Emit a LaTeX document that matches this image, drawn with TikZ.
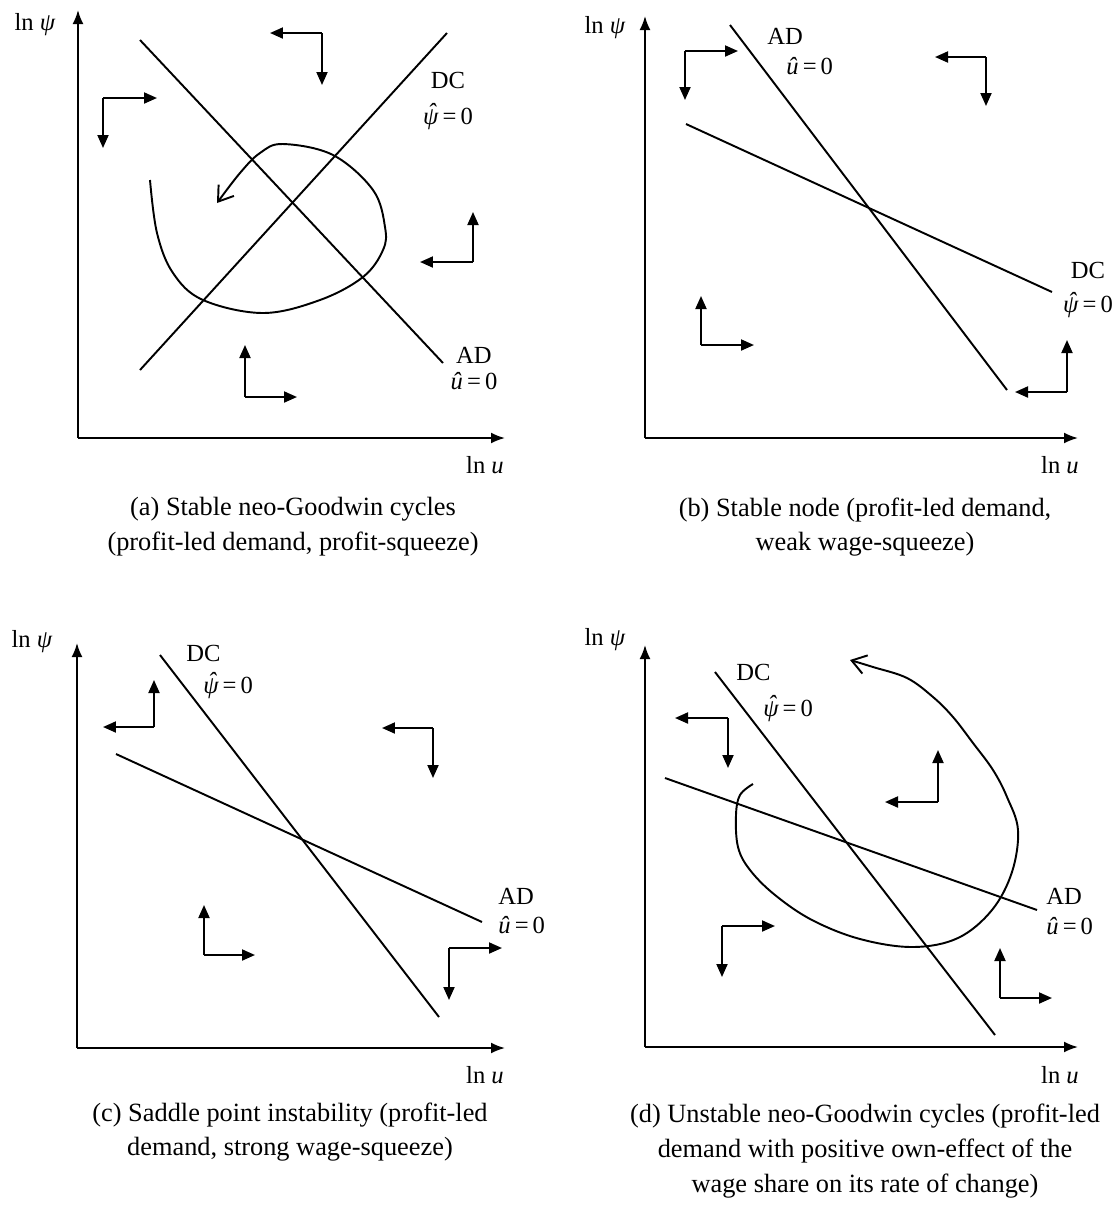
\documentclass[tikz,border=0pt]{standalone}
\usepackage{amsmath}
\usepackage{fontspec}
\setmainfont{Liberation Serif}
\usetikzlibrary{arrows.meta}
\tikzset{
  axis line/.style = {-{Latex[length=2.8mm,width=2.2mm]}, line width=1.1pt},
  locus/.style     = {line width=1.1pt},
  flow/.style      = {-{Triangle[length=2.6mm,width=2.2mm]}, line width=1.1pt},
  orbit/.style     = {-{Straight Barb[length=2.8mm,width=3.8mm]}, line width=1.1pt},
  lbl/.style       = {font=\fontsize{14}{15}\selectfont, inner sep=0pt},
  caption/.style   = {font=\fontsize{15}{19.8}\selectfont, align=center, inner sep=0pt},
}
% corner, horizontal run, vertical run
\newcommand{\flowpair}[3]{%
  \draw[flow] (#1) -- ++(#2,0);
  \draw[flow] (#1) -- ++(0,#3);}
\newcommand{\psieq}{{\itshape\accent"02C6 ψ}\,=\,0}
\newcommand{\ueq}{\textit{û}\,=\,0}

\begin{document}
\begin{tikzpicture}[x=0.02cm,y=-0.02cm]
  \useasboundingbox (0,0) rectangle (1120,1205);

  % (a) stable cycles
  \coordinate (a-o) at (78,438);
  \draw[axis line] (a-o) -- (78,10);
  \draw[axis line] (a-o) -- (505,438);
  \node[lbl] (a-psi) at (35,25) {ln \textit{ψ}};
  \node[lbl] (a-u) at (485,465) {ln \textit{u}};
  \coordinate (a-ad1) at (140,40);  \coordinate (a-ad2) at (443,363);
  \coordinate (a-dc1) at (140,370); \coordinate (a-dc2) at (447,33);
  \draw[locus] (a-ad1) -- (a-ad2);
  \draw[locus] (a-dc1) -- (a-dc2);
  \node[lbl,align=center,anchor=north] (a-dc) at (448,72) {DC\\[5.4pt]\psieq};
  \node[lbl,align=center,anchor=north] (a-ad) at (474,347) {AD\\\ueq};
  \draw[orbit] plot[smooth,tension=0.6] coordinates {(150,180) (157,233) (173,273)
    (203,300) (263,313) (320,300) (363,277) (383,250) (385,227) (373,190)
    (333,155) (283,144) (260,153) (240,173) (217,203)};
  \coordinate (a-f1) at (322,33);  \flowpair{a-f1}{-52}{52}
  \coordinate (a-f2) at (103,98);  \flowpair{a-f2}{54}{50}
  \coordinate (a-f3) at (473,262); \flowpair{a-f3}{-53}{-50}
  \coordinate (a-f4) at (245,397); \flowpair{a-f4}{52}{-52}
  \node[caption] (a-cap) at (293,527) {(a) Stable neo-Goodwin cycles\\(profit-led demand, profit-squeeze)};

  % (b) stable node
  \coordinate (b-o) at (645,438);
  \draw[axis line] (b-o) -- (645,16);
  \draw[axis line] (b-o) -- (1078,438);
  \node[lbl] (b-psi) at (605,28) {ln \textit{ψ}};
  \node[lbl] (b-u) at (1060,465) {ln \textit{u}};
  \coordinate (b-ad1) at (730,25);  \coordinate (b-ad2) at (1007,390);
  \coordinate (b-dc1) at (686,124); \coordinate (b-dc2) at (1052,292);
  \draw[locus] (b-ad1) -- (b-ad2);
  \draw[locus] (b-dc1) -- (b-dc2);
  \node[lbl,align=left,anchor=north west] (b-ad) at (767,28) {AD\\[2pt]\hspace*{0.38cm}\ueq};
  \node[lbl,align=center,anchor=north] (b-dc) at (1088,262) {DC\\[4.3pt]\psieq};
  \coordinate (b-f1) at (685,51);  \flowpair{b-f1}{53}{49}
  \coordinate (b-f2) at (986,57);  \flowpair{b-f2}{-51}{49}
  \coordinate (b-f3) at (701,345); \flowpair{b-f3}{53}{-49}
  \coordinate (b-f4) at (1067,392); \flowpair{b-f4}{-52}{-52}
  \node[caption] (b-cap) at (865,527) {(b) Stable node (profit-led demand,\\weak wage-squeeze)};

  % (c) saddle point
  \coordinate (c-o) at (77,1048);
  \draw[axis line] (c-o) -- (77,643);
  \draw[axis line] (c-o) -- (505,1048);
  \node[lbl] (c-psi) at (32,642) {ln \textit{ψ}};
  \node[lbl] (c-u) at (485,1075) {ln \textit{u}};
  \coordinate (c-dc1) at (160,655); \coordinate (c-dc2) at (439,1017);
  \coordinate (c-ad1) at (116,754); \coordinate (c-ad2) at (482,922);
  \draw[locus] (c-dc1) -- (c-dc2);
  \draw[locus] (c-ad1) -- (c-ad2);
  \node[lbl,align=left,anchor=north west] (c-dc) at (186,645) {DC\\[3pt]\hspace*{0.34cm}\psieq};
  \node[lbl,align=left,anchor=north west] (c-ad) at (498,888) {AD\\[1.4pt]\ueq};
  \coordinate (c-f1) at (154,727); \flowpair{c-f1}{-51}{-47}
  \coordinate (c-f2) at (433,728); \flowpair{c-f2}{-51}{50}
  \coordinate (c-f3) at (204,955); \flowpair{c-f3}{51}{-50}
  \coordinate (c-f4) at (449,948); \flowpair{c-f4}{53}{52}
  \node[caption] (c-cap) at (290,1132) {(c) Saddle point instability (profit-led\\demand, strong wage-squeeze)};

  % (d) unstable cycles
  \coordinate (d-o) at (645,1047);
  \draw[axis line] (d-o) -- (645,645);
  \draw[axis line] (d-o) -- (1078,1047);
  \node[lbl] (d-psi) at (605,640) {ln \textit{ψ}};
  \node[lbl] (d-u) at (1060,1075) {ln \textit{u}};
  \coordinate (d-dc1) at (715,672); \coordinate (d-dc2) at (995,1035);
  \coordinate (d-ad1) at (665,778); \coordinate (d-ad2) at (1037,910);
  \draw[locus] (d-dc1) -- (d-dc2);
  \draw[locus] (d-ad1) -- (d-ad2);
  \node[lbl,align=left,anchor=north west] (d-dc) at (736,664) {DC\\[5.4pt]\hspace*{0.54cm}\psieq};
  \node[lbl,align=left,anchor=north west] (d-ad) at (1046,888) {AD\\[2pt]\ueq};
  \draw[orbit] plot[smooth,tension=0.6] coordinates {(753,784) (740,795) (736,815)
    (738,847) (750,870) (775,895) (812,920) (860,939) (913,947) (958,938)
    (992,910) (1012,872) (1018,830) (1007,797) (993,770) (973,743) (953,717)
    (933,697) (907,678) (873,667) (850,660)};
  \coordinate (d-f1) at (728,718); \flowpair{d-f1}{-53}{50}
  \coordinate (d-f2) at (938,802); \flowpair{d-f2}{-53}{-52}
  \coordinate (d-f3) at (722,926); \flowpair{d-f3}{53}{51}
  \coordinate (d-f4) at (1000,998); \flowpair{d-f4}{52}{-50}
  \node[caption] (d-cap) at (865,1151) {(d) Unstable neo-Goodwin cycles (profit-led\\demand with positive own-effect of the\\wage share on its rate of change)};
\end{tikzpicture}
\end{document}
